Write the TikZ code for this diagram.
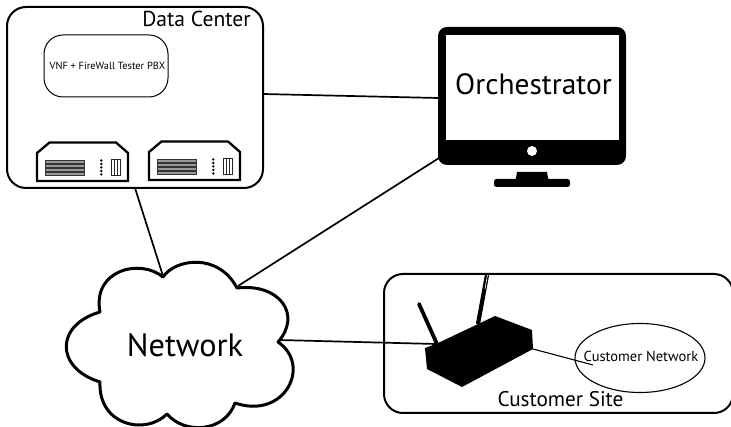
\documentclass[tikz,border=0pt]{standalone}
\usepackage{fontspec}
\usetikzlibrary{shapes.geometric}
\setmainfont{PT Sans}
\tikzset{
  every node/.style={inner sep=0pt,outer sep=0pt,text=black},
  bigbox/.style={draw=black,line width=2pt,rounded corners=19pt,anchor=north west},
  labeltext/.style={anchor=base},
  link/.style={draw=black,line width=1.7pt},
  thinlink/.style={draw=black,line width=1.1pt},
  serverbody/.style={draw=black,line width=2.3pt,fill=white,line join=miter},
  serverbar/.style={draw=black!80,line width=0.7pt,fill=black!40},
  serverdot/.style={fill=black,draw=none},
  slot/.style={draw=black!85,line width=0.8pt,fill=white},
}
\newcommand{\serverat}[2]{%
  \begin{scope}[shift={(#1,#2)}]
    \draw[serverbody] (0,39) -- (0,11) -- (12.5,0.5) -- (79,0.5) -- (91,11) -- (91,39) -- cycle;
    \foreach \r in {18,22,26,30}{\draw[serverbar] (8.5,\r) rectangle (47.5,\r+3.4);}
    \foreach \r in {18.5,22,25.5,29,32.5}{\fill[serverdot] (64.3,\r) circle (1.3);}
    \foreach \c in {74.5,77.5,80.5}{\draw[slot] (\c,17.5) rectangle (\c+2.6,33.5);}
  \end{scope}}
\begin{document}
\begin{tikzpicture}[x=1pt,y=-1pt]
\useasboundingbox (0,0) rectangle (731,427);
\clip (0,0) rectangle (731,427);
\fill[white] (0,0) rectangle (731,427);

% anchors for connectors
\coordinate (dcE) at (263,94);
\coordinate (dcS) at (135,188);
\coordinate (monW) at (438,98);
\coordinate (monSW) at (439,158);
\coordinate (cloudN) at (163,276);
\coordinate (cloudNE) at (238,286);
\coordinate (cloudE) at (279,340);
\coordinate (routerW) at (436,344);
\coordinate (routerE) at (533,349);
\coordinate (custIn) at (593,365);

% Data Center
\node[bigbox,minimum width=256pt,minimum height=181pt] (dc) at (7,7) {};
\node[labeltext,font=\fontsize{21.6}{24}\selectfont] (dclabel) at (196.5,27) {Data Center};
\node[draw=black,line width=1pt,rounded corners=19pt,anchor=north west,minimum width=124pt,minimum height=62pt] (vnf) at (44,35) {};
\node[labeltext,font=\fontsize{10.4}{12}\selectfont] (vnflabel) at (107.5,70) {VNF + FireWall Tester PBX};
\serverat{37}{142}
\serverat{149}{141}

% Orchestrator
\fill[black,rounded corners=9pt] (438,27) rectangle (626,165);
\node[draw=none,fill=white,anchor=north west,minimum width=173pt,minimum height=105pt] (screen) at (446,35) {};
\fill[white] (532,151) circle (5);
\fill[black] (517,172) -- (547,172) -- (548,178) -- (549,180) -- (515,180) -- (516,178) -- cycle;
\fill[black,rounded corners=2.5pt] (494,179) -- (570,179) -- (570,187) -- (494,187) -- cycle;
\node[labeltext,font=\fontsize{29.4}{34}\selectfont] (orch) at (533.5,95) {Orchestrator};

% Customer site
\node[bigbox,minimum width=349pt,minimum height=139pt] (site) at (384,274) {};
\node[labeltext,font=\fontsize{21.2}{24}\selectfont] (sitelabel) at (560.5,407) {Customer Site};
\node[draw=black,line width=1.1pt,ellipse,minimum width=130pt,minimum height=69pt] (custnet) at (640,358) {};
\node[labeltext,font=\fontsize{14.5}{17}\selectfont] (custlabel) at (641,362) {Customer Network};

% Connectors
\draw[link] (dcE) -- (monW);
\draw[link] (dcS) -- (cloudN);
\draw[link] (cloudNE) -- (monSW);
\draw[link] (cloudE) -- (routerW);
\draw[thinlink] (routerE) -- (custIn);

% Router
\draw[black,line width=3.8pt,line cap=round] (419,304) -- (437,344);
\draw[black,line width=4.2pt] (487,275) -- (478,324);
\draw[white,line width=0.6pt] (487.5,275) -- (485,289);
\fill[black] (425,348) -- (436,344) -- (495,316) -- (532,330) -- (533,349) -- (462,387) -- (427,369) -- cycle;

% Cloud
\draw[black,line width=3pt,fill=white,line join=round]
  (163,277) .. controls (175,259) and (218,252) .. (237,288)
  .. controls (280,283) and (302,315) .. (278,342)
  .. controls (312,365) and (285,420) .. (235,403)
  .. controls (225,432) and (185,435) .. (167,414)
  .. controls (145,436) and (98,425) .. (100,382)
  .. controls (55,368) and (55,325) .. (100,312)
  .. controls (92,270) and (140,258) .. cycle;
\node[labeltext,font=\fontsize{32.3}{36}\selectfont] (net) at (185,357) {Network};
\end{tikzpicture}
\end{document}
